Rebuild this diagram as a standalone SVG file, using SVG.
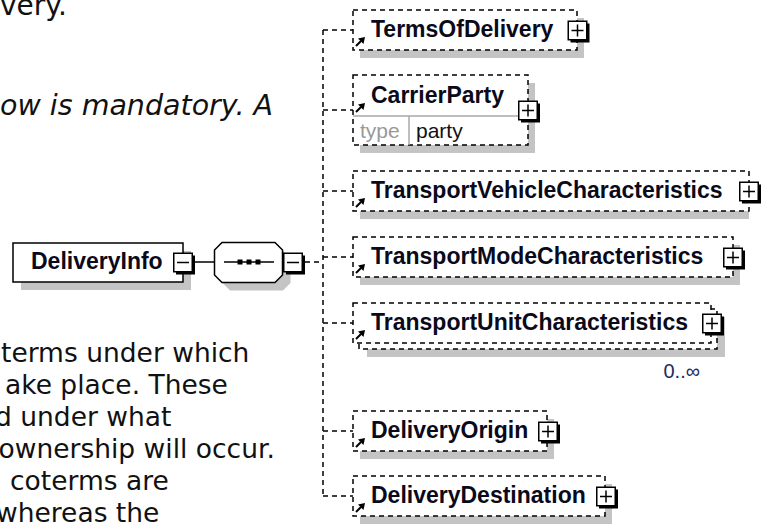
<svg xmlns="http://www.w3.org/2000/svg" width="764" height="524" viewBox="0 0 764 524">
<defs>
<style>
.doc{font-family:"DejaVu Sans",Verdana,sans-serif;font-size:26.5px;fill:#111}
.top{font-size:28px}
.it{font-style:italic;font-size:28.5px}
.nm{font-family:"Liberation Sans",Arial,sans-serif;font-size:23px;font-weight:bold;fill:#0a0a1a}
.box{fill:#fff;stroke:#000;stroke-width:1.5}
.opt{fill:#fff;stroke:#000;stroke-width:1.5;stroke-dasharray:5 4}
.sh{fill:#c4c4c4}
.con{fill:none;stroke:#000;stroke-width:1.5}
.dcon{fill:none;stroke:#000;stroke-width:1.5;stroke-dasharray:5 4}
.lbl{font-family:"Liberation Sans",Arial,sans-serif;font-size:21px}
.sep{stroke:#a8a8a8;stroke-width:1.5}
.occ{font-family:"Liberation Sans",Arial,sans-serif;font-size:20px;fill:#1e2a5e}
</style>
<g id="plus">
<rect x="3" y="3" width="19" height="19" fill="#000"/>
<rect x="0.75" y="0.75" width="18.5" height="18.5" fill="#fff" stroke="#000" stroke-width="1.5"/>
<path d="M4 10H16M10 4V16" stroke="#000" stroke-width="1.5"/>
</g>
<g id="minus">
<rect x="3" y="3" width="19" height="19" fill="#000"/>
<rect x="0.75" y="0.75" width="18.5" height="18.5" fill="#fff" stroke="#000" stroke-width="1.5"/>
<path d="M4 10H16" stroke="#000" stroke-width="1.5"/>
</g>
<g id="ref">
<path d="M1 10L6 5" stroke="#000" stroke-width="2"/>
<polygon points="10,1 3,2.5 8.5,8" fill="#000"/>
</g>
</defs>

<g id="doc-text">
<text class="doc top" x="0" y="15">very.</text>
<text class="doc it" x="0" y="115">ow is mandatory. A</text>
<text class="doc" x="1" y="362">terms under which</text>
<text class="doc" x="5" y="394">ake place. These</text>
<text class="doc" x="-5" y="426">d under what</text>
<text class="doc" x="-1.5" y="458">ownership will occur.</text>
<text class="doc" x="10" y="490">coterms are</text>
<text class="doc" x="-4" y="522">whereas the</text>
</g>

<g id="connectors">
<path class="con" d="M192 262H214.5"/>
<path class="dcon" d="M305 262H323"/>
<path class="dcon" d="M323 30V496"/>
<path class="dcon" d="M323 30H353M323 110H353M323 191H353M323 257H353M323 323H353M323 431H353M323 496H353"/>
</g>

<g id="DeliveryInfo">
<rect class="sh" x="21" y="251" width="170" height="39"/>
<rect class="box" x="13" y="243" width="170" height="39"/>
<text class="nm" x="31" y="269">DeliveryInfo</text>
<use href="#minus" x="173" y="252.5"/>
</g>

<g id="sequence">
<polygon class="sh" points="230,250.5 283,250.5 290.5,258 290.5,283 283,290.5 230,290.5 222.5,283 222.5,258"/>
<polygon class="box" points="222,242.5 275,242.5 282.5,250 282.5,275 275,282.5 222,282.5 214.5,275 214.5,250"/>
<path class="con" d="M224 262H274"/>
<rect x="237.5" y="259.5" width="5" height="5" fill="#000"/>
<rect x="246.5" y="259.5" width="5" height="5" fill="#000"/>
<rect x="255.5" y="259.5" width="5" height="5" fill="#000"/>
<use href="#minus" x="283" y="252.5"/>
</g>

<g id="TermsOfDelivery">
<rect class="sh" x="360" y="18" width="224" height="40"/>
<rect class="opt" x="353" y="10" width="224" height="40"/>
<text class="nm" x="371" y="37">TermsOfDelivery</text>
<use href="#ref" x="355" y="36"/>
<use href="#plus" x="567.5" y="20.5"/>
</g>

<g id="CarrierParty">
<rect class="sh" x="360" y="83" width="175" height="70"/>
<rect class="opt" x="353" y="75" width="175" height="70"/>
<line class="sep" x1="353" y1="116" x2="528" y2="116"/>
<line class="sep" x1="409" y1="116" x2="409" y2="145"/>
<text class="nm" x="371" y="103">CarrierParty</text>
<text class="lbl" x="360" y="138" fill="#999">type</text>
<text class="lbl" x="416" y="138" fill="#111">party</text>
<use href="#ref" x="355" y="102"/>
<use href="#plus" x="518" y="100.5"/>
</g>

<g id="TransportVehicleCharacteristics">
<rect class="sh" x="360" y="179" width="389" height="40"/>
<rect class="opt" x="353" y="171" width="396" height="40"/>
<text class="nm" x="371" y="198">TransportVehicleCharacteristics</text>
<use href="#ref" x="355" y="197"/>
<use href="#plus" x="739" y="181.5"/>
</g>

<g id="TransportModeCharacteristics">
<rect class="sh" x="360" y="245" width="380" height="40"/>
<rect class="opt" x="353" y="237" width="380" height="40"/>
<text class="nm" x="371" y="264">TransportModeCharacteristics</text>
<use href="#ref" x="355" y="263"/>
<use href="#plus" x="723" y="247.5"/>
</g>

<g id="TransportUnitCharacteristics">
<rect class="sh" x="367" y="317" width="358" height="40"/>
<rect class="opt" x="359" y="309" width="358" height="40"/>
<rect class="opt" x="353" y="303" width="358" height="40"/>
<text class="nm" x="371" y="330">TransportUnitCharacteristics</text>
<use href="#ref" x="355" y="329"/>
<use href="#plus" x="702" y="313.5"/>
<text class="occ" x="700" y="378" text-anchor="end">0..∞</text>
</g>

<g id="DeliveryOrigin">
<rect class="sh" x="360" y="419" width="194" height="40"/>
<rect class="opt" x="353" y="411" width="194" height="40"/>
<text class="nm" x="371" y="438">DeliveryOrigin</text>
<use href="#ref" x="355" y="437"/>
<use href="#plus" x="538" y="421.5"/>
</g>

<g id="DeliveryDestination">
<rect class="sh" x="360" y="484" width="252" height="40"/>
<rect class="opt" x="353" y="476" width="252" height="40"/>
<text class="nm" x="371" y="503">DeliveryDestination</text>
<use href="#ref" x="355" y="502"/>
<use href="#plus" x="596" y="486.5"/>
</g>
</svg>
